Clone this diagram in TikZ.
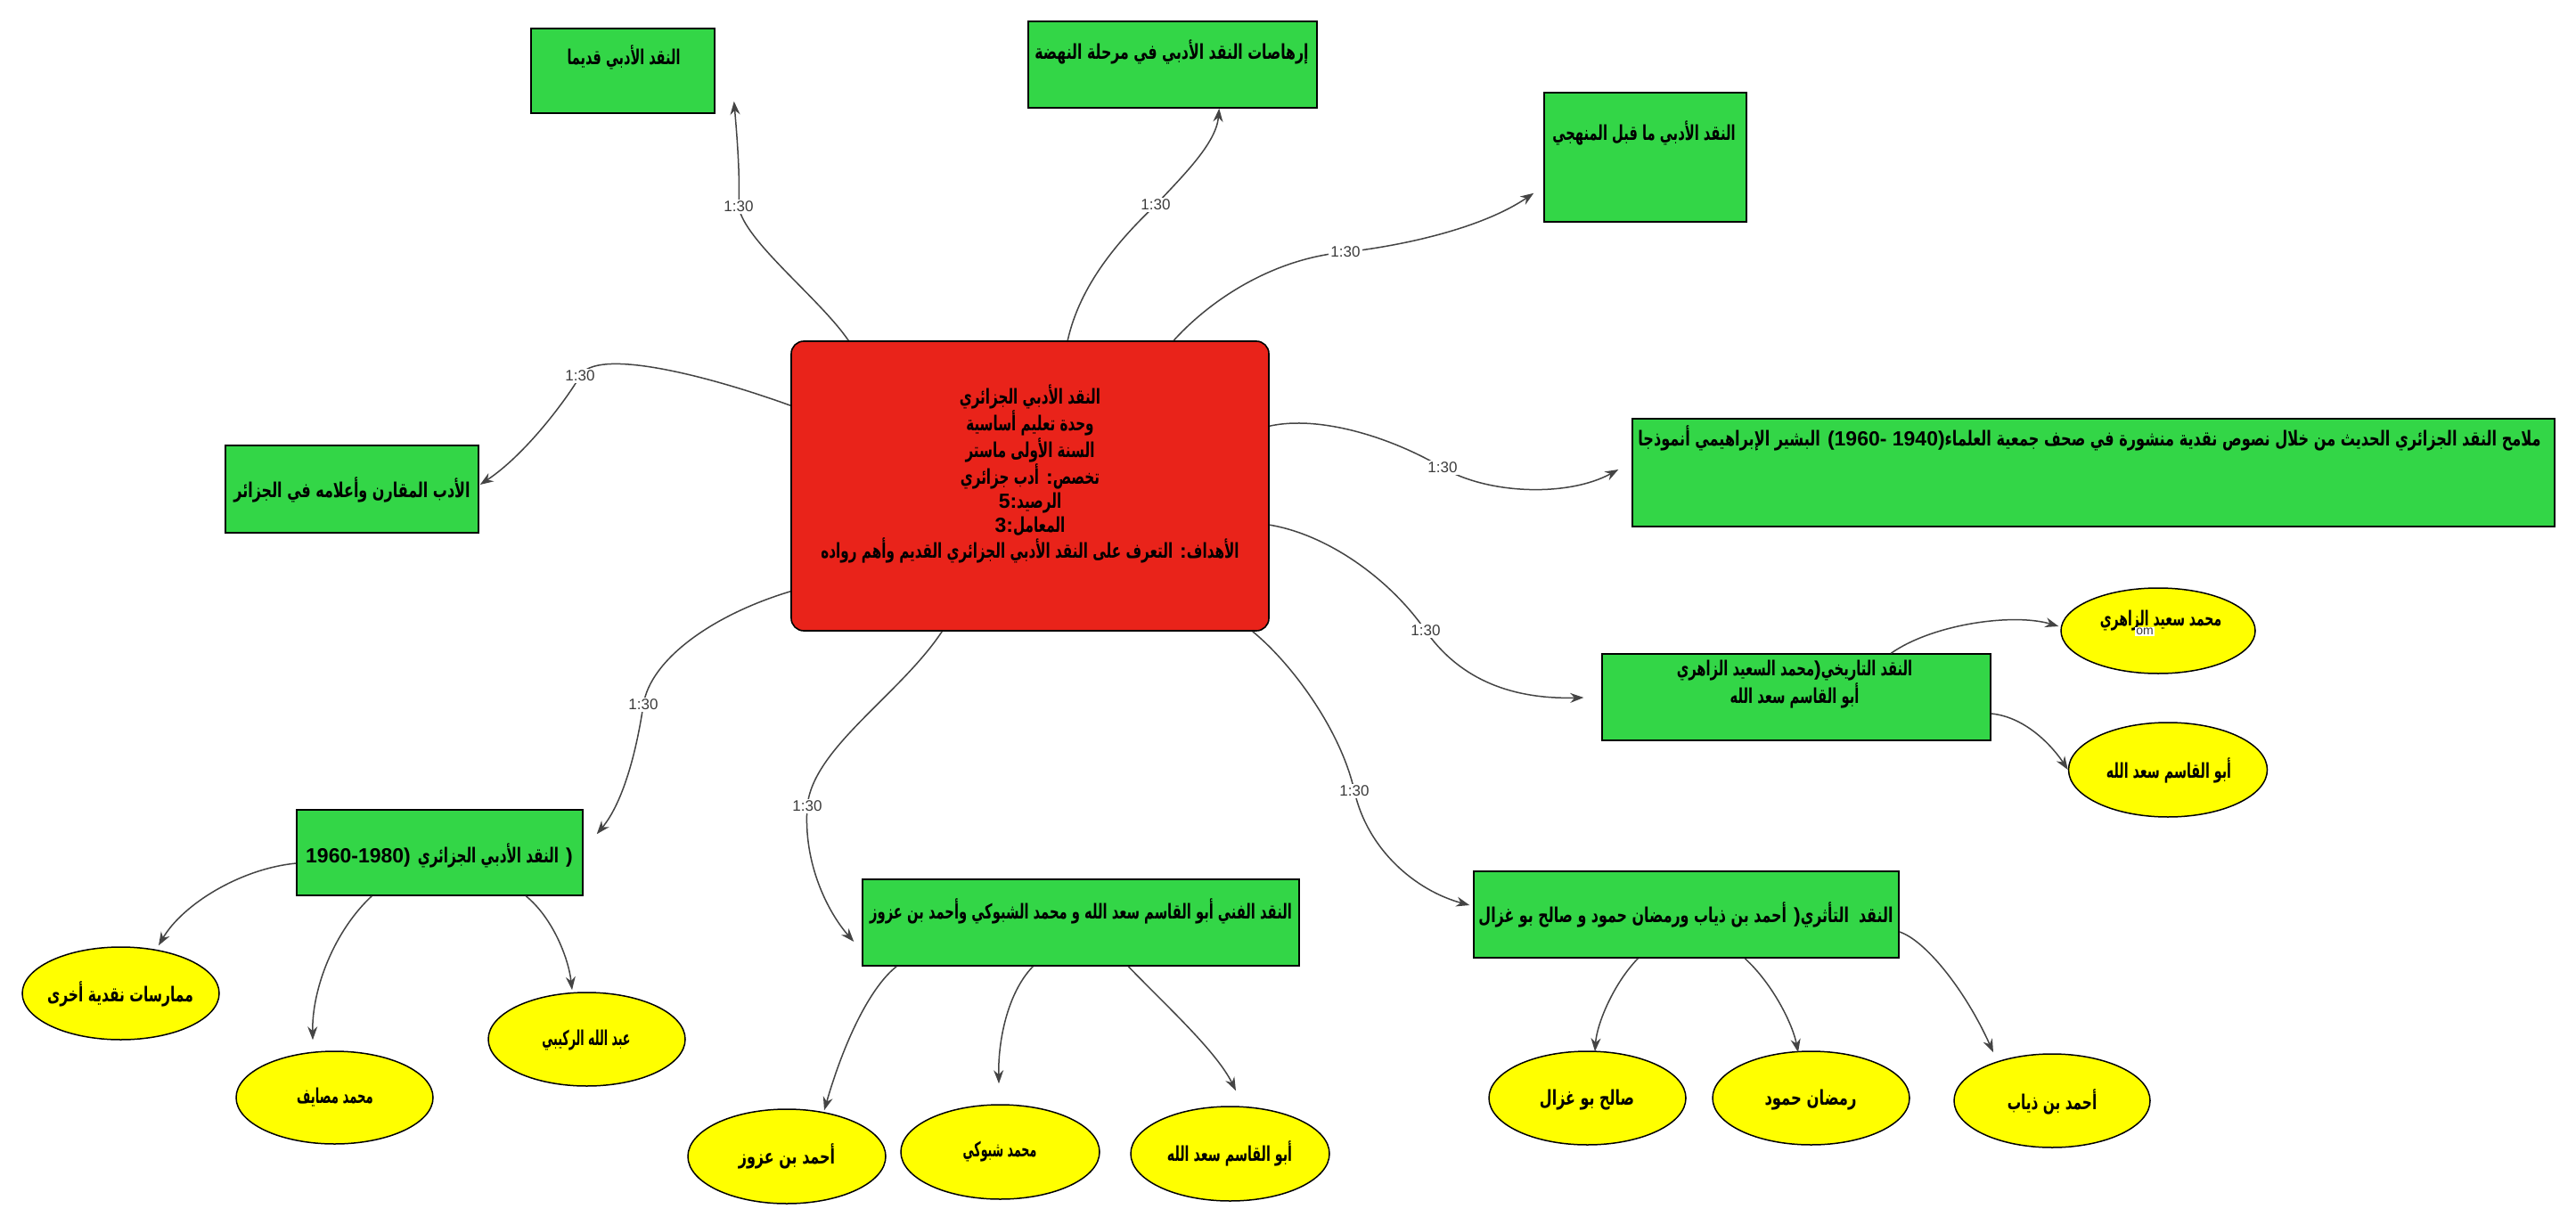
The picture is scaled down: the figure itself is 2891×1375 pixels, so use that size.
\documentclass[tikz,border=0pt]{standalone}
\usepackage{graphicx}
\usepackage{fontspec}
\setmainfont{Liberation Sans}
\newfontfamily\arfont[Script=Arabic]{DejaVu Sans}
\newfontfamily\lfnt{Liberation Sans}
\TeXXeTstate=1
\usetikzlibrary{calc,arrows.meta,shapes.geometric}
\definecolor{rootred}{RGB}{233,35,26}
\definecolor{boxgreen}{RGB}{51,214,71}
\definecolor{ellyellow}{RGB}{255,255,0}
\definecolor{edgegray}{RGB}{68,68,68}
\definecolor{lblgray}{RGB}{60,60,60}
\newcommand\artext{\arfont\bfseries\fontsize{11.5}{13.5}\selectfont}
\newcommand\hs[2]{\scalebox{#1}[1]{#2}}
\tikzset{
  gbox/.style={draw=black, line width=0.75pt, fill=boxgreen, rectangle, inner sep=0pt},
  rbox/.style={draw=black, line width=0.8pt, fill=rootred, rectangle, rounded corners=7pt, inner sep=0pt},
  ell/.style={ellipse, draw=black, line width=0.75pt, fill=ellyellow, inner sep=0pt},
  edge/.style={draw=edgegray, line width=0.75pt, -{Stealth[length=7.5pt,width=5.5pt]}},
  lbl/.style={fill=white, inner sep=1pt, text=lblgray, font=\lfnt\fontsize{8.5}{10}\selectfont},
  txt/.style={align=center, font=\artext, inner sep=0pt}
}
\begin{document}
\begin{tikzpicture}[x=0.5pt,y=-0.5pt]
\fill[white] (0,0) rectangle (2891,1375);
\useasboundingbox (0,0) rectangle (2891,1375);

% ---- boxes ----
\node[rbox, minimum width=268pt, minimum height=162.5pt] (root) at (1156,545.5) {};
\node[gbox, minimum width=103pt, minimum height=47.5pt] (G1) at (699,79.5) {};
\node[gbox, minimum width=162pt, minimum height=48.5pt] (G2) at (1316,72.5) {};
\node[gbox, minimum width=113.5pt, minimum height=72.5pt] (G3) at (1846.5,176.5) {};
\node[gbox, minimum width=517.5pt, minimum height=60.5pt] (G4) at (2349.5,530.5) {};
\node[gbox, minimum width=142pt, minimum height=49pt] (G5) at (395,549) {};
\node[gbox, minimum width=218pt, minimum height=48.5pt] (G6) at (2016,782.5) {};
\node[gbox, minimum width=160.5pt, minimum height=48pt] (G7) at (493.5,957) {};
\node[gbox, minimum width=245pt, minimum height=48.5pt] (G8) at (1213,1035.5) {};
\node[gbox, minimum width=238.5pt, minimum height=48.5pt] (G9) at (1892.5,1026.5) {};

% ---- box texts ----
\node[txt] (troot) at (1156,532) {\hs{0.66}{\beginR النقد الأدبي الجزائري\endR}\\
\hs{0.66}{\beginR وحدة تعليم أساسية\endR}\\
\hs{0.66}{\beginR السنة الأولى ماستر\endR}\\
\hs{0.66}{\beginR أدب جزائري\endR}\ {\lfnt:}\hs{0.66}{\beginR تخصص\endR}\\
{\lfnt 5:}\hs{0.66}{\beginR الرصيد\endR}\\
{\lfnt 3:}\hs{0.66}{\beginR المعامل\endR}\\
\hs{0.66}{\beginR التعرف على النقد الأدبي الجزائري القديم وأهم رواده\endR}\ {\lfnt:}\hs{0.66}{\beginR الأهداف\endR}};
\node[txt] (t1) at (700,64) {\hs{0.63}{\beginR النقد الأدبي قديما\endR}};
\node[txt] (t2) at (1315,58) {\hs{0.685}{\beginR إرهاصات النقد الأدبي في مرحلة النهضة\endR}};
\node[txt] (t3) at (1845,149) {\hs{0.64}{\beginR النقد الأدبي ما قبل المنهجي\endR}};
\node[txt] (t4) at (2345,492) {\hs{0.70}{\beginR البشير الإبراهيمي أنموذجا\endR}\ {\lfnt(1960- 1940)}\hs{0.70}{\beginR ملامح النقد الجزائري الحديث من خلال نصوص نقدية منشورة في صحف جمعية العلماء\endR}};
\node[txt] (t5) at (395,550) {\hs{0.694}{\beginR الأدب المقارن وأعلامه في الجزائر\endR}};
\node[txt] (t6) at (2014,768) {\hs{0.64}{\beginR محمد السعيد الزاهري\endR}{\lfnt)}\hs{0.64}{\beginR النقد التاريخي\endR}\\
\hs{0.64}{\beginR أبو القاسم سعد الله\endR}};
\node[txt] (t7) at (493,960) {{\lfnt 1960-1980)} \hs{0.66}{\beginR النقد الأدبي الجزائري\endR}\ {\lfnt)}};
\node[txt] (t8) at (1213,1023) {\hs{0.64}{\beginR النقد الفني أبو القاسم سعد الله و محمد الشبوكي وأحمد بن عزوز\endR}};
\node[txt] (t9) at (1892,1027) {\hs{0.69}{\beginR أحمد بن ذياب ورمضان حمود و صالح بو غزال\endR}\ {\lfnt)}\hs{0.69}{\beginR النقد\ \ التأثري\endR}};

% ---- ellipses ----
\node[ell, minimum width=109pt, minimum height=48pt] (zah) at (2422,708) {};
\node[ell, minimum width=111.5pt, minimum height=53pt] (abq1) at (2433,864) {};
\node[ell, minimum width=110.5pt, minimum height=52pt] (mum) at (135.5,1115) {};
\node[ell, minimum width=110.5pt, minimum height=52pt] (mas) at (375.5,1232) {};
\node[ell, minimum width=110.5pt, minimum height=52.5pt] (rak) at (658.5,1166.5) {};
\node[ell, minimum width=111pt, minimum height=53pt] (azz) at (883,1298) {};
\node[ell, minimum width=111.5pt, minimum height=53pt] (shb) at (1122.5,1293) {};
\node[ell, minimum width=111.5pt, minimum height=53pt] (abq2) at (1380.5,1295) {};
\node[ell, minimum width=110.5pt, minimum height=52.5pt] (bgz) at (1781.5,1232.5) {};
\node[ell, minimum width=110.5pt, minimum height=52.5pt] (ham) at (2032.5,1232.5) {};
\node[ell, minimum width=110pt, minimum height=52.5pt] (dhb) at (2303,1235.5) {};

\node[txt] (tzah) at (2425,697) {\hs{0.61}{\beginR محمد سعيد الزاهري\endR}};
\node[fill=white, inner sep=0.8pt, text=lblgray, font=\lfnt\fontsize{7}{8}\selectfont] (om) at (2407,709) {om};
\node[txt] (tabq1) at (2434,865) {\hs{0.62}{\beginR أبو القاسم سعد الله\endR}};
\node[txt] (tmum) at (135,1116) {\hs{0.675}{\beginR ممارسات نقدية أخرى\endR}};
\node[txt] (tmas) at (376,1232) {\hs{0.575}{\beginR محمد مصايف\endR}};
\node[txt] (trak) at (658,1168) {\hs{0.55}{\beginR عبد الله الركيبي\endR}};
\node[txt] (tazz) at (883,1298) {\hs{0.694}{\beginR أحمد بن عزوز\endR}};
\node[txt] (tshb) at (1122,1293) {\hs{0.55}{\beginR محمد شبوكي\endR}};
\node[txt] (tabq2) at (1380,1295) {\hs{0.62}{\beginR أبو القاسم سعد الله\endR}};
\node[txt] (tbgz) at (1781,1235) {\hs{0.694}{\beginR صالح بو غزال\endR}};
\node[txt] (tham) at (2032,1235) {\hs{0.712}{\beginR رمضان حمود\endR}};
\node[txt] (tdhb) at (2303,1237) {\hs{0.667}{\beginR أحمد بن ذياب\endR}};

% ---- edges from root ----
\draw[edge] ($(root.north west)+(65,0)$) .. controls (920,335) and (835,270) .. (829,232) .. controls (831,195) and (826,140) .. ($(G1.south east)+(21,-14)$);
\node[lbl] (l1) at (829,232) {1:30};
\draw[edge] ($(root.north west)+(311,0)$) .. controls (1212,320) and (1255,270) .. (1297,230) .. controls (1330,195) and (1365,160) .. ($(G2.south west)+(215,0)$);
\node[lbl] (l2) at (1297,230) {1:30};
\draw[edge] ($(root.north west)+(430,0)$) .. controls (1360,335) and (1430,290) .. (1510,283) .. controls (1580,275) and (1665,255) .. ($(G3.south west)+(-11,-33)$);
\node[lbl] (l3) at (1510,283) {1:30};
\draw[edge] ($(root.north east)+(0,96)$) .. controls (1480,466) and (1560,490) .. (1619,525) .. controls (1670,555) and (1760,558) .. ($(G4.west)+(-15,-3.5)$);
\node[lbl] (l4) at (1619,525) {1:30};
\draw[edge] ($(root.north west)+(0,73)$) .. controls (790,420) and (668,390) .. (651,422) .. controls (636,448) and (590,510) .. ($(G5.east)+(1,-5)$);
\node[lbl] (l5) at (651,422) {1:30};
\draw[edge] ($(root.north east)+(0,207)$) .. controls (1490,600) and (1560,650) .. (1600,708) .. controls (1640,765) and (1700,785) .. ($(G6.west)+(-20,0.5)$);
\node[lbl] (l6) at (1600,708) {1:30};
\draw[edge] ($(root.south west)+(0,-45)$) .. controls (800,690) and (730,740) .. (722,791) .. controls (715,840) and (700,900) .. ($(G7.north east)+(15,28)$);
\node[lbl] (l7) at (722,791) {1:30};
\draw[edge] ($(root.south west)+(170,0)$) .. controls (1010,780) and (912,840) .. (906,905) .. controls (901,970) and (930,1025) .. ($(G8.west)+(-9,21.5)$);
\node[lbl] (l8) at (906,905) {1:30};
\draw[edge] ($(root.south east)+(-19,0)$) .. controls (1450,745) and (1505,820) .. (1520,888) .. controls (1535,955) and (1590,1000) .. ($(G9.west)+(-4,-10.5)$);
\node[lbl] (l9) at (1520,888) {1:30};

% ---- child edges ----
\draw[edge] ($(G6.north west)+(325,0)$) .. controls (2170,700) and (2260,688) .. ($(zah.west)+(-2,-5)$);
\draw[edge] ($(G6.east)+(0,18.5)$) .. controls (2275,805) and (2305,840) .. (abq1.west);
\draw[edge] ($(G7.west)+(0,12)$) .. controls (270,975) and (205,1015) .. ($(mum.north)+(42.5,-1)$);
\draw[edge] ($(G7.south west)+(85,0)$) .. controls (375,1045) and (350,1110) .. ($(mas.north)+(-24.5,-12)$);
\draw[edge] ($(G7.south west)+(258,0)$) .. controls (620,1030) and (638,1075) .. ($(rak.north)+(-16.5,-2)$);
\draw[edge] ($(G8.south west)+(39,0)$) .. controls (980,1105) and (950,1160) .. ($(azz.north)+(42,2)$);
\draw[edge] ($(G8.south west)+(192,0)$) .. controls (1130,1115) and (1120,1170) .. ($(shb.north)+(-1.5,-23)$);
\draw[edge] ($(G8.south west)+(299,0)$) .. controls (1310,1130) and (1365,1180) .. ($(abq2.north)+(6.5,-17)$);
\draw[edge] ($(G9.south west)+(185,0)$) .. controls (1810,1105) and (1792,1150) .. ($(bgz.north)+(8.5,1)$);
\draw[edge] ($(G9.south west)+(305,0)$) .. controls (1990,1105) and (2012,1150) .. ($(ham.north)+(-14.5,2)$);
\draw[edge] ($(G9.east)+(0,19.5)$) .. controls (2160,1055) and (2205,1110) .. ($(dhb.north)+(-66,-1)$);
\end{tikzpicture}
\end{document}
